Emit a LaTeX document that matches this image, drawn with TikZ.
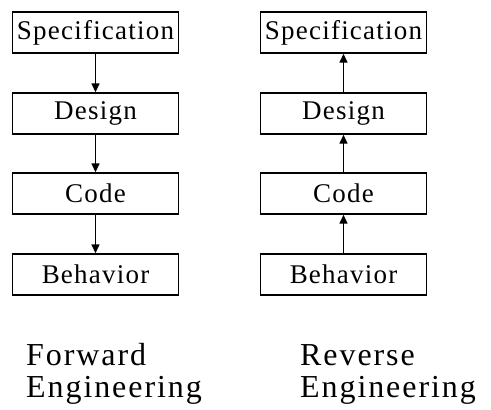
\documentclass[tikz,border=0pt]{standalone}
\usepackage{fontspec}
\setmainfont{Liberation Serif}[LetterSpace=4.5]
\usetikzlibrary{arrows.meta}
\begin{document}
\begin{tikzpicture}[x=1pt,y=-1pt,
  stage/.style={draw,line width=1.4pt,minimum width=166pt,minimum height=41pt,inner sep=0pt,
    font=\fontsize{27}{30}\selectfont},
  flow/.style={line width=1.4pt,-{Triangle[length=9pt,width=8pt]}},
  caption/.style={anchor=base west,inner sep=0pt,font=\addfontfeature{LetterSpace=6}\fontsize{32}{34}\selectfont}]
\useasboundingbox (0,0) rectangle (491,410);
% forward
\node[stage] (fs) at (95.5,32.5) {Specification};
\node[stage] (fd) at (95.5,113.5) {Design};
\node[stage] (fc) at (95.5,193.5) {Code};
\node[stage] (fb) at (95.5,274.5) {Behavior};
\draw[flow] (fs) -- (fd);
\draw[flow] (fd) -- (fc);
\draw[flow] (fc) -- (fb);
% reverse
\node[stage] (rs) at (343.5,32.5) {Specification};
\node[stage] (rd) at (343.5,113.5) {Design};
\node[stage] (rc) at (343.5,193.5) {Code};
\node[stage] (rb) at (343.5,274.5) {Behavior};
\draw[flow] (rb) -- (rc);
\draw[flow] (rc) -- (rd);
\draw[flow] (rd) -- (rs);
% captions
\node[caption] (fw1) at (26,365) {Forward};
\node[caption] (fw2) at (26,397) {Engineering};
\node[caption] (rv1) at (300,365) {Reverse};
\node[caption] (rv2) at (300,397) {Engineering};
\end{tikzpicture}
\end{document}
